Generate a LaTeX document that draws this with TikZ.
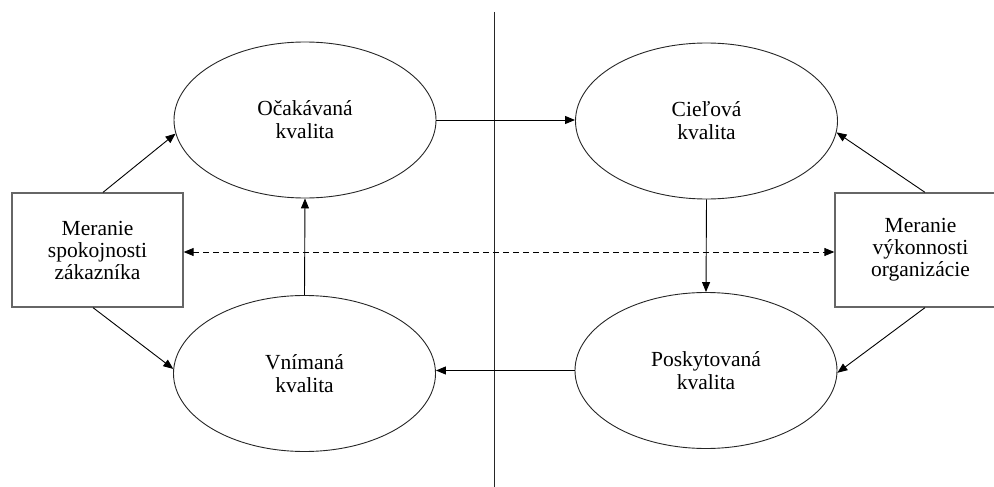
\documentclass[tikz,border=0pt]{standalone}
\usepackage{fontspec}
\setmainfont{Liberation Serif}
\usetikzlibrary{shapes.geometric,arrows.meta,calc}
\begin{document}
\begin{tikzpicture}[x=1pt,y=-1pt,
 ell/.style={ellipse,draw=black!85,line width=0.9pt,minimum width=262pt,minimum height=156pt,inner sep=0pt,align=center,font=\fontsize{21.5}{23}\selectfont},
 box/.style={rectangle,draw=black!60,line width=1.3pt,minimum width=171pt,minimum height=114pt,inner sep=0pt,align=center,font=\fontsize{21.5}{22}\selectfont},
 tip/.tip={Triangle[length=10pt,width=8pt]},
 arr/.style={line width=0.9pt,-tip},
 darr/.style={line width=0.9pt,tip-tip,dash pattern=on 6pt off 4pt},
 divider/.style={line width=1pt,draw=black!85},
]
\useasboundingbox (0,0) rectangle (994,487);
\begin{scope}
\clip (0,0) rectangle (994,487);
\coordinate (vtop) at (494.5,12);
\coordinate (vbot) at (494.5,487);
\draw[divider] (vtop) -- (vbot);

\node[ell] (E1) at (305,120) {Očakávaná\\kvalita};
\node[ell] (E2) at (706.5,121) {Cieľová\\kvalita};
\node[ell] (E3) at (304.5,373.5) {Vnímaná\\kvalita};
\node[ell] (E4) at (706,370.5) {Poskytovaná\\kvalita};

\node[box] (L) at (97.5,250) {Meranie\\spokojnosti\\zákazníka};
\node[box] (R) at (920.5,250) {Meranie\\výkonnosti\\organizácie};

\draw[arr] (E1.east) -- (E1.east -| E2.west);
\draw[arr] (E4.west) -- (E4.west -| E3.east);
\draw[arr] (E3.north) -- (E1.south);
\draw[arr] (E2.south) -- (E4.north);

\draw[arr] ($(L.north west)!0.532!(L.north east)$) -- (E1.186);
\draw[arr] ($(L.south west)!0.474!(L.south east)$) -- (E3.178);
\draw[arr] ($(R.north west)!0.526!(R.north east)$) -- (E2.355);
\draw[arr] ($(R.south west)!0.526!(R.south east)$) -- (E4.359);

\draw[darr] ([yshift=-2pt]L.east) -- ([yshift=-2pt]R.west);
\end{scope}
\end{tikzpicture}
\end{document}
